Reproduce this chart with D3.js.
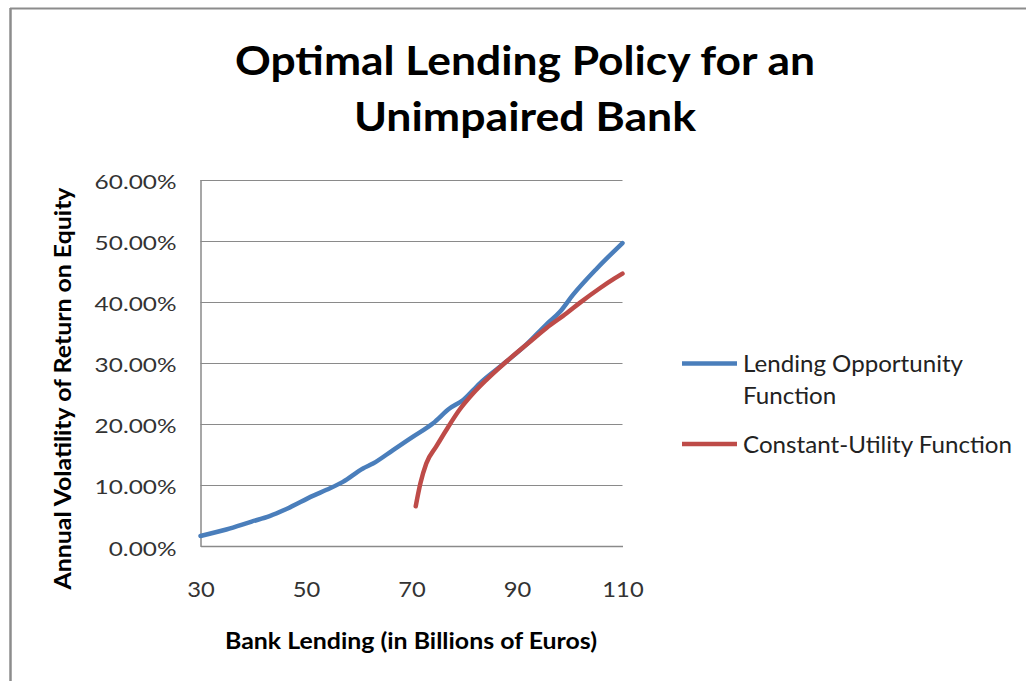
<!DOCTYPE html>
<html><head><meta charset="utf-8">
<script src="https://cdn.jsdelivr.net/npm/d3@7"></script>
<style>body{margin:0;background:#fff;}svg{display:block;}</style>
</head><body>
<svg id="c" width="1026" height="681"></svg>
<script>
const titleLines = ["Optimal Lending Policy for an", "Unimpaired Bank"];
const xTicks = [30, 50, 70, 90, 110];
const yTicks = [0, 0.1, 0.2, 0.3, 0.4, 0.5, 0.6];
const seriesNames = ["Lending Opportunity Function", "Constant-Utility Function"];
const lendingX = [30, 34.9, 39.7, 43.1, 46.3, 51.3, 53.9, 57.0, 60.8, 62.7, 66.5, 70.3, 74.1, 77.2, 79.8, 82.9, 88.0, 91.8, 95.6, 98.1, 100.6, 105.1, 110];
const lendingY = [0.0164, 0.027, 0.040, 0.049, 0.0605, 0.082, 0.092, 0.105, 0.127, 0.135, 0.157, 0.179, 0.201, 0.225, 0.239, 0.266, 0.302, 0.330, 0.363, 0.383, 0.411, 0.454, 0.496];
const utilityX = [70.8, 71.7, 72.8, 74.7, 76.6, 79.1, 81.7, 84.2, 88.0, 92.4, 95.6, 99.4, 101.9, 105.7, 108.5, 110];
const utilityY = [0.065, 0.103, 0.135, 0.163, 0.190, 0.223, 0.250, 0.272, 0.302, 0.334, 0.357, 0.381, 0.398, 0.422, 0.438, 0.446];

const svg = d3.select("#c");
const font = "Lato, 'Open Sans', sans-serif";
const x = d3.scaleLinear().domain([30, 110]).range([200.5, 622.5]);
const y = d3.scaleLinear().domain([0, 0.6]).range([546, 179.5]);

function stretch(sel, factor) {
  sel.each(function () {
    const len = this.getComputedTextLength();
    d3.select(this).attr("textLength", len * factor).attr("lengthAdjust", "spacingAndGlyphs");
  });
}
function fitTo(sel, width) {
  sel.attr("textLength", width).attr("lengthAdjust", "spacingAndGlyphs");
}

// outer border (partially visible)
svg.append("line").attr("x1", 10).attr("x2", 1026).attr("y1", 8.5).attr("y2", 8.5).attr("stroke", "#8c8c8c").attr("stroke-width", 2);
svg.append("line").attr("x1", 10.5).attr("x2", 10.5).attr("y1", 8).attr("y2", 681).attr("stroke", "#8c8c8c").attr("stroke-width", 2.5);

// title
const titleBase = [75, 131];
const titleWidth = [580, 342];
svg.append("g").selectAll("text").data(titleLines).join("text")
  .attr("x", 525).attr("y", (d, i) => titleBase[i])
  .attr("text-anchor", "middle").attr("font-family", font).attr("font-weight", "bold")
  .attr("font-size", 41).attr("fill", "#000").text(d => d)
  .each(function (d, i) { fitTo(d3.select(this), titleWidth[i]); });

// gridlines
svg.append("g").selectAll("line").data(yTicks).join("line")
  .attr("x1", x(30)).attr("x2", x(110))
  .attr("y1", d => Math.round(y(d)) + 0.5).attr("y2", d => Math.round(y(d)) + 0.5)
  .attr("stroke", "#8a8a8a").attr("stroke-width", 1.2);

// y axis
const yAxis = d3.axisLeft(y).tickValues(yTicks).tickFormat(d3.format(".2%")).tickSize(0).tickPadding(24);
const gy = svg.append("g").attr("transform", `translate(${x(30)},0)`).call(yAxis);
gy.select(".domain").attr("stroke", "#8a8a8a").attr("stroke-width", 1.5);
gy.selectAll("text").attr("font-family", font).attr("font-size", 20).attr("fill", "#333").attr("dy", "0.45em");
stretch(gy.selectAll("text"), 1.22);

// x axis
const xAxis = d3.axisBottom(x).tickValues(xTicks).tickSize(0).tickPadding(36);
const gx = svg.append("g").attr("transform", `translate(0,${y(0)})`).call(xAxis);
gx.select(".domain").attr("stroke", "#8a8a8a").attr("stroke-width", 1.5);
gx.selectAll("text").attr("font-family", font).attr("font-size", 21).attr("fill", "#333").attr("dy", "0.71em");
stretch(gx.selectAll("text"), 1.13);

// axis titles
svg.append("text").attr("x", 411).attr("y", 649).attr("text-anchor", "middle")
  .attr("font-family", font).attr("font-weight", "bold").attr("font-size", 23).attr("fill", "#000")
  .text("Bank Lending (in Billions of Euros)").call(fitTo, 372);
svg.append("text").attr("transform", "translate(71,388.5) rotate(-90)").attr("text-anchor", "middle")
  .attr("font-family", font).attr("font-weight", "bold").attr("font-size", 23).attr("fill", "#000")
  .text("Annual Volatility of Return on Equity").call(fitTo, 402);

// lines
const line = d3.line().x(d => x(d[0])).y(d => y(d[1])).curve(d3.curveMonotoneX);
const colors = ["#4a7ebb", "#be4b48"];
const data = [d3.zip(lendingX, lendingY), d3.zip(utilityX, utilityY)];
svg.append("g").selectAll("path").data(data).join("path")
  .attr("d", line).attr("fill", "none")
  .attr("stroke", (d, i) => colors[i]).attr("stroke-width", 4.5).attr("stroke-linecap", "round");

// legend
const leg = svg.append("g");
const legY = [363.5, 444];
leg.selectAll("line").data(seriesNames).join("line")
  .attr("x1", 682).attr("x2", 737).attr("y1", (d, i) => legY[i]).attr("y2", (d, i) => legY[i])
  .attr("stroke", (d, i) => colors[i]).attr("stroke-width", 4.5);
const legLines = [
  { t: "Lending Opportunity", y: 372, w: 220 },
  { t: "Function", y: 404, w: null },
  { t: "Constant-Utility Function", y: 453, w: 269 }
];
leg.selectAll("text").data(legLines).join("text")
  .attr("x", 743).attr("y", d => d.y)
  .attr("font-family", font).attr("font-size", 23).attr("fill", "#222").text(d => d.t)
  .each(function (d) { if (d.w) fitTo(d3.select(this), d.w); else stretch(d3.select(this), 1.05); });
</script>
</body></html>
